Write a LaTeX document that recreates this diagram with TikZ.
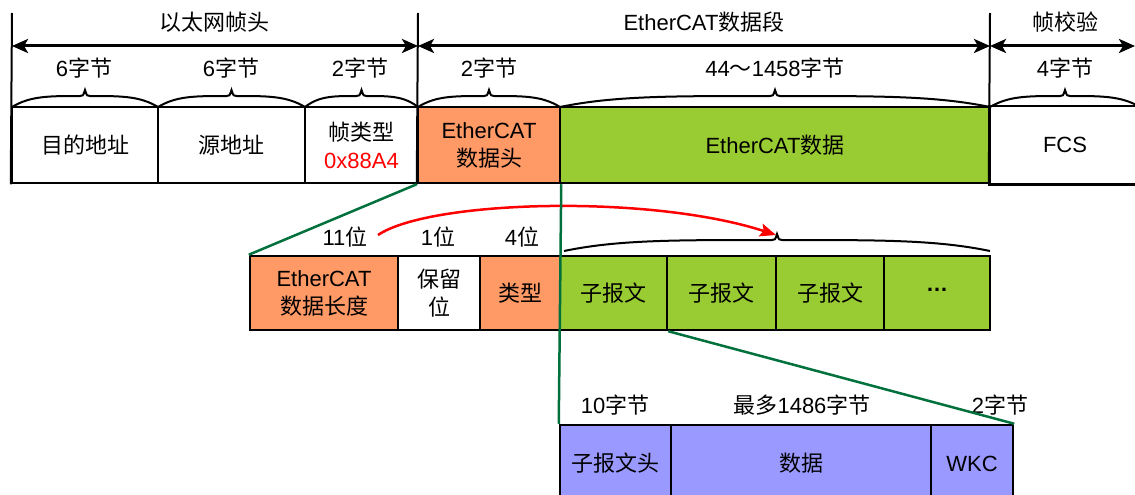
\documentclass[tikz,border=0pt]{standalone}
\usepackage{fontspec}
\setmainfont{Liberation Sans}
\newfontfamily\cjk{Noto Sans CJK SC}
\newcommand\zh[1]{{\cjk #1}}
\usetikzlibrary{arrows.meta}
\definecolor{orng}{HTML}{FF9966}
\definecolor{grn}{HTML}{99CC33}
\definecolor{prp}{HTML}{9999FF}
\definecolor{dgrn}{HTML}{00703C}
\newcommand\fbrace[3]{%
  \pgfmathsetmacro\bm{(#1+#2)/2}%
  \pgfmathsetmacro\bh{(#2-#1)/2}%
  \draw[brc] (#1,#3) .. controls (#1+0.25*\bh,#3-11) and (\bm-0.5*\bh,#3-11) .. (\bm-5,#3-11)
    .. controls (\bm-2,#3-11) .. (\bm,#3-17)
    .. controls (\bm+2,#3-11) .. (\bm+5,#3-11)
    .. controls (\bm+0.5*\bh,#3-11) and (#2-0.25*\bh,#3-11) .. (#2,#3);}
\begin{document}
\begin{tikzpicture}[x=1pt,y=-1pt,
  box/.style={draw=black,line width=2.5pt,inner sep=0pt,align=center,font=\fontsize{22}{28}\selectfont},
  lbl/.style={inner sep=0pt,align=center,font=\fontsize{22}{28}\selectfont},
  dimarr/.style={line width=3pt,{Stealth[length=16pt,width=14pt,inset=4pt]}-{Stealth[length=16pt,width=14pt,inset=4pt]}},
  vline/.style={line width=2pt},
  brc/.style={line width=2pt},
  gline/.style={draw=dgrn,line width=2.5pt},
  rarr/.style={draw=red,line width=2.5pt,-{Stealth[length=16pt,width=13pt,inset=3pt]}}
]
\useasboundingbox (0,0) rectangle (1135,495);

% top row
\node[box,minimum width=146pt,minimum height=76pt] (dst) at (85,145) {\zh{目的地址}};
\node[box,minimum width=147pt,minimum height=76pt] (src) at (231.5,145) {\zh{源地址}};
\node[box,minimum width=113pt,minimum height=76pt] (ftype) at (361.5,145) {\zh{帧类型}\\\textcolor{red}{0x88A4}};
\node[box,fill=orng,minimum width=142pt,minimum height=76pt] (ehead) at (489,145) {EtherCAT\\\zh{数据头}};
\node[box,fill=grn,minimum width=430pt,minimum height=76pt] (edata) at (775,145) {EtherCAT\zh{数据}};
\node[box,draw=none,minimum width=150pt,minimum height=76pt] (fcs) at (1065,145) {FCS};
\draw[line width=2.5pt] (fcs.north east) -- (fcs.north west) -- (fcs.south west) -- (fcs.south east);

% vertical guide lines and dimension arrows
\coordinate (v1) at (12,13);
\coordinate (v2) at (418,13);
\coordinate (v3) at (990,13);
\draw[vline] (v1) -- (dst.south west);
\draw[vline] (v2) -- (ehead.south west);
\draw[vline] (v3) -- (fcs.south west);
\coordinate (a1) at (12,46);
\coordinate (a2) at (418,46);
\coordinate (a3) at (990,46);
\coordinate (a4) at (1135,46);
\draw[dimarr] (a1) -- (a2);
\draw[dimarr] (a2) -- (a3);
\draw[dimarr] (a3) -- (a4);
\node[lbl] (t1) at (214,22) {\zh{以太网帧头}};
\node[lbl] (t2) at (704,22) {EtherCAT\zh{数据段}};
\node[lbl] (t3) at (1065,22) {\zh{帧校验}};

% byte labels
\node[lbl] (b1) at (84,68) {6\zh{字节}};
\node[lbl] (b2) at (231,68) {6\zh{字节}};
\node[lbl] (b3) at (360,68) {2\zh{字节}};
\node[lbl] (b4) at (489,68) {2\zh{字节}};
\node[lbl] (b5) at (775,68) {44\zh{～}1458\zh{字节}};
\node[lbl] (b6) at (1065,68) {4\zh{字节}};

% top braces
\fbrace{12}{158}{107}
\fbrace{158}{305}{107}
\fbrace{305}{418}{107}
\fbrace{418}{560}{107}
\fbrace{560}{990}{107}
\fbrace{990}{1140}{107}

% middle row
\node[box,fill=orng,minimum width=148pt,minimum height=74pt] (len) at (324,293) {EtherCAT\\\zh{数据长度}};
\node[box,minimum width=82pt,minimum height=74pt] (rsv) at (439,293) {\zh{保留}\\\zh{位}};
\node[box,fill=orng,minimum width=80pt,minimum height=74pt] (mtype) at (520,293) {\zh{类型}};
\node[box,fill=grn,minimum width=107pt,minimum height=74pt] (sub1) at (613.5,293) {\zh{子报文}};
\node[box,fill=grn,minimum width=109pt,minimum height=74pt] (sub2) at (721.5,293) {\zh{子报文}};
\node[box,fill=grn,minimum width=108pt,minimum height=74pt] (sub3) at (830,293) {\zh{子报文}};
\node[box,fill=grn,minimum width=106pt,minimum height=74pt] (sub4) at (937,293) {\bfseries\raisebox{0.3em}{…}};

\node[lbl] (m1) at (345,237) {11\zh{位}};
\node[lbl] (m2) at (438,237) {1\zh{位}};
\node[lbl] (m3) at (522,237) {4\zh{位}};
\fbrace{564}{990}{251}

% bottom row
\node[box,fill=prp,minimum width=111pt,minimum height=77pt] (shead) at (615.5,463.5) {\zh{子报文头}};
\node[box,fill=prp,minimum width=260pt,minimum height=77pt] (sdata) at (801,463.5) {\zh{数据}};
\node[box,fill=prp,minimum width=82pt,minimum height=77pt] (wkc) at (972,463.5) {WKC};
\node[lbl] (n1) at (615,405) {10\zh{字节}};
\node[lbl] (n2) at (802,405) {\zh{最多}1486\zh{字节}};
\node[lbl] (n3) at (1000,405) {2\zh{字节}};

% red arrow
\coordinate (rs) at (378,235);
\coordinate (re) at (776,235);
\draw[rarr] (rs) .. controls (430,200) and (650,194) .. (re);

% green expansion lines
\draw[gline] (ehead.south west) -- (len.north west);
\draw[gline] (ehead.south east) -- (shead.north west);
\draw[gline] (sub1.south east) -- (wkc.north east);
\end{tikzpicture}
\end{document}
